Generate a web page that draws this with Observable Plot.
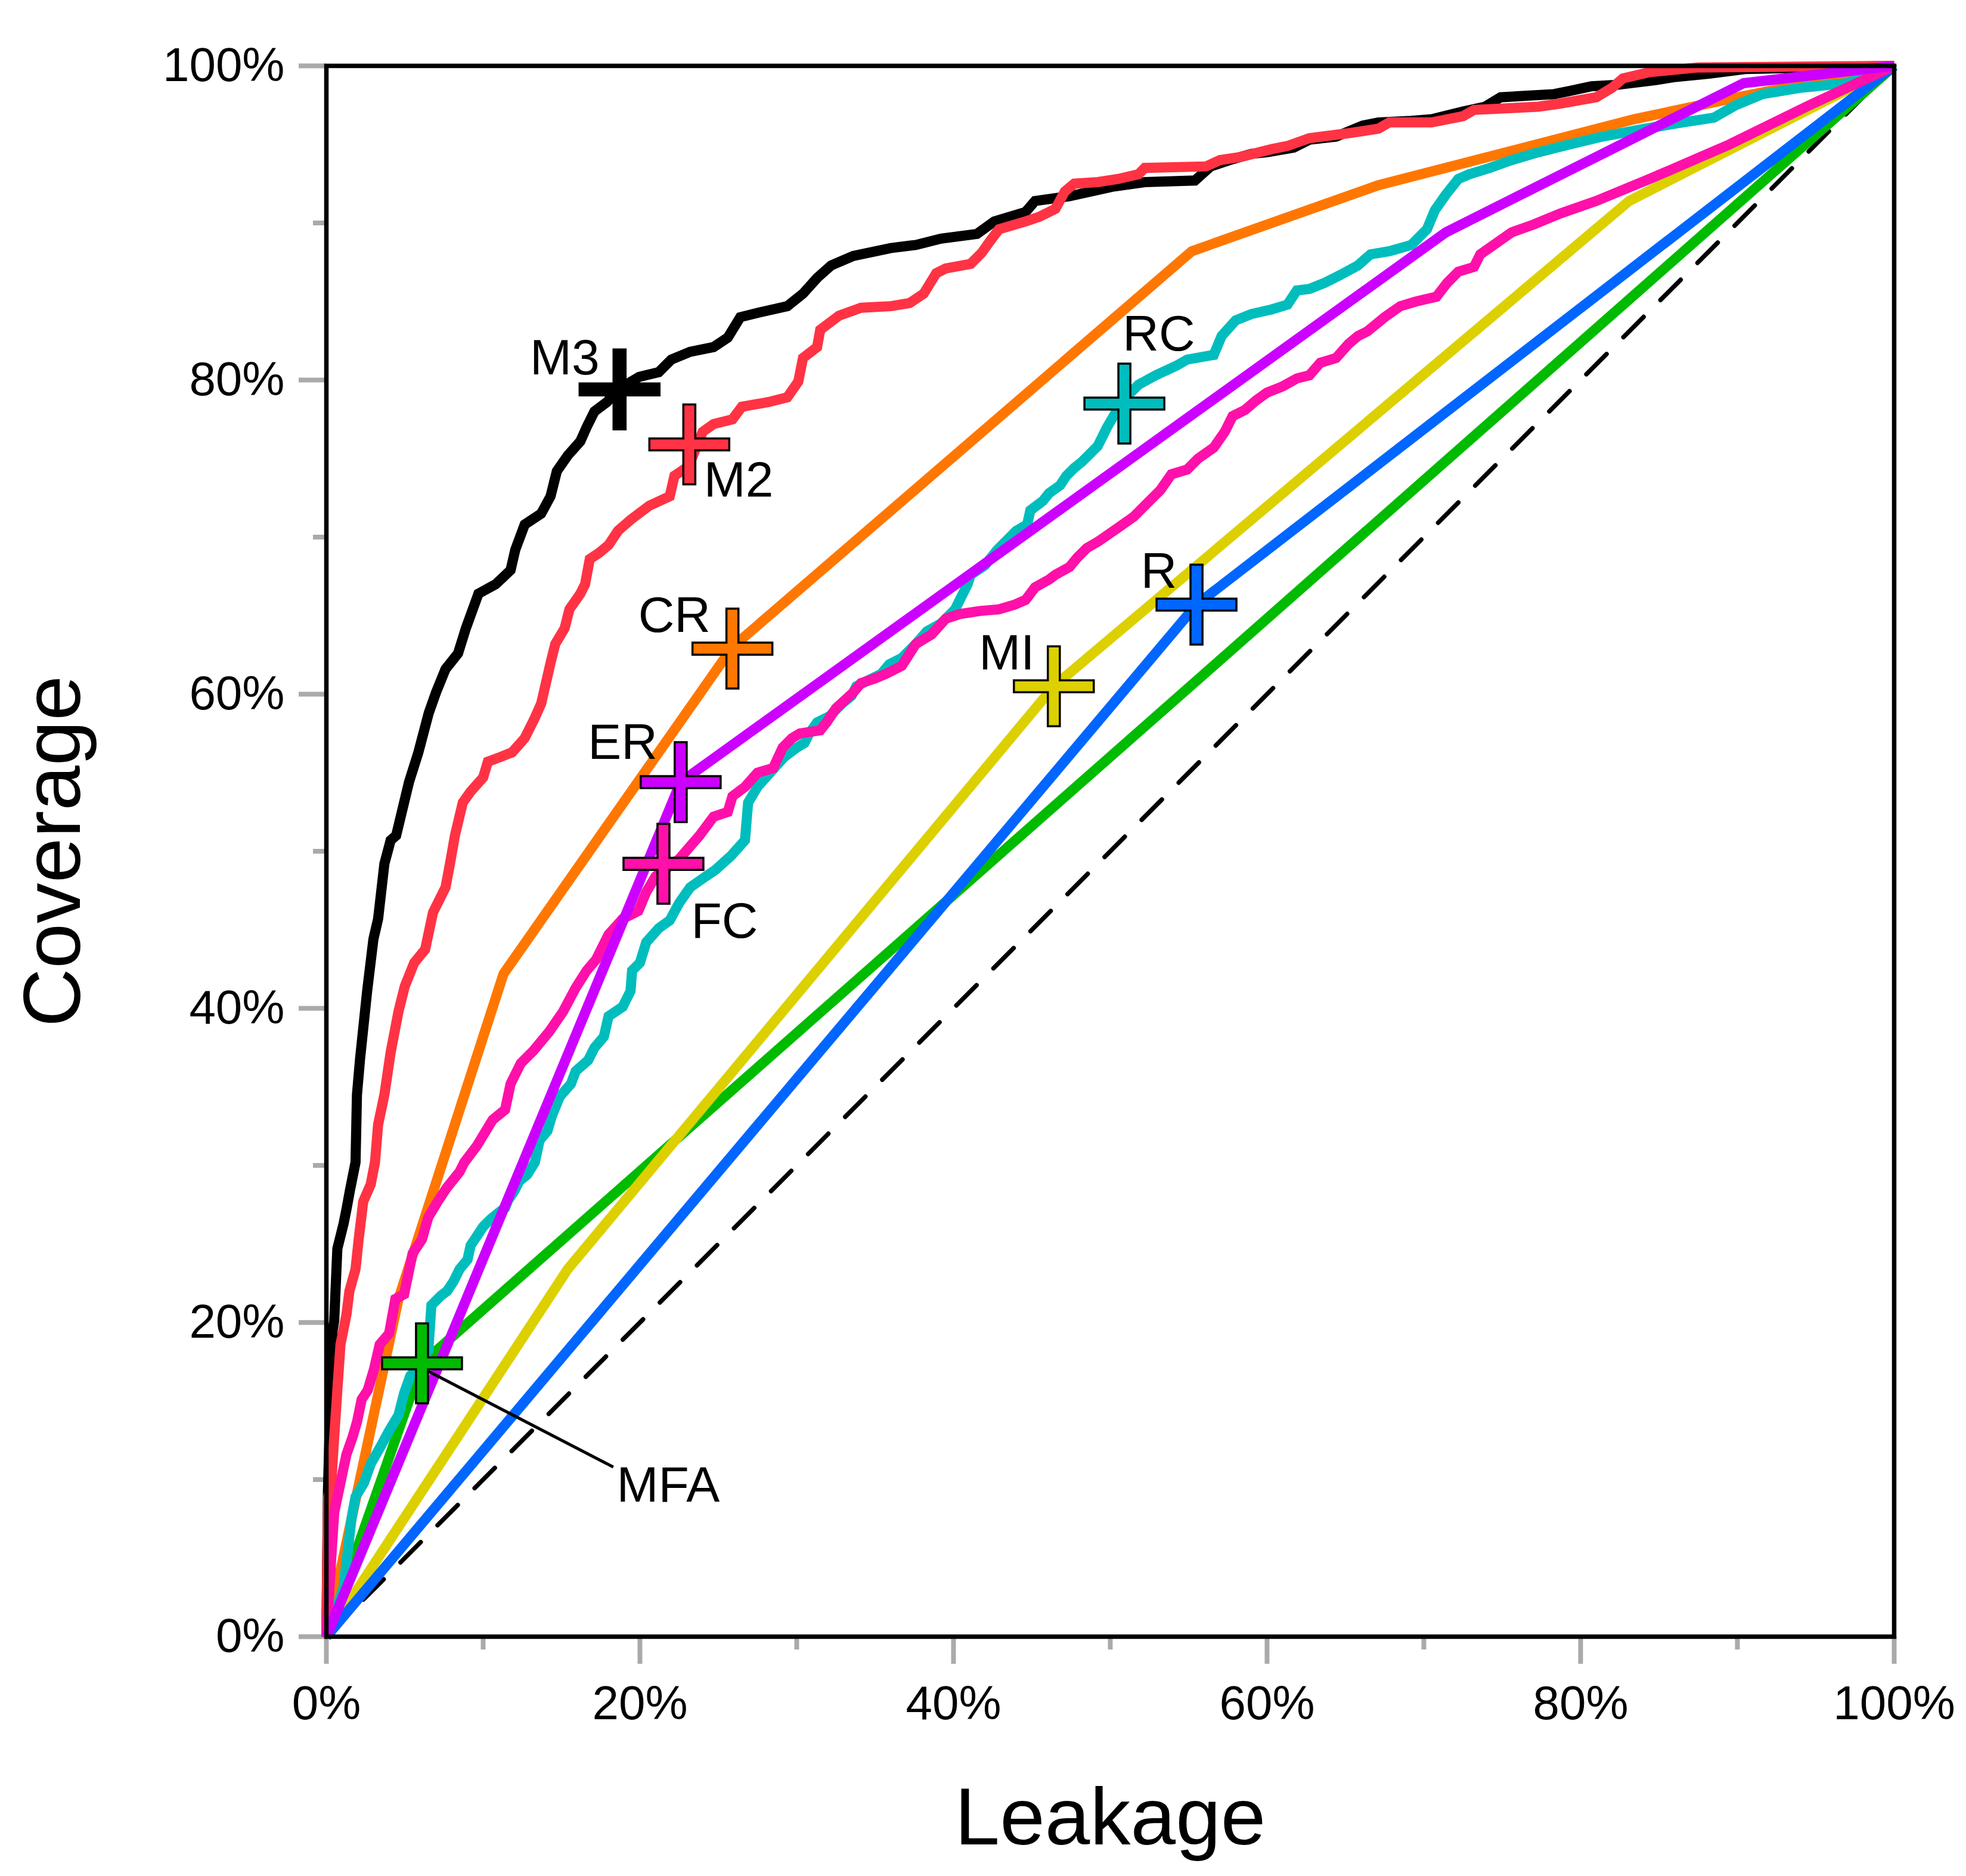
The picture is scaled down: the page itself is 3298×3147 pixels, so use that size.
<!DOCTYPE html>
<html>
<head>
<meta charset="utf-8">
<script src="https://cdn.jsdelivr.net/npm/d3@7"></script>
<script src="https://cdn.jsdelivr.net/npm/@observablehq/plot@0.6"></script>
<style>
  html, body { margin: 0; padding: 0; background: #fff; }
  #chart svg { display: block; }
</style>
</head>
<body>
<div id="chart"></div>
<script>
// ---- Data (Leakage %, Coverage %) ----
const m3 = [[0,0],[0.1,9.3],[0.3,16.6],[0.4,19.5],[0.5,20.1],[0.7,24.7],[1.1,26.3],[1.3,27.3],[1.5,28.4],[1.86,30.2],
  [1.95,34.5],[2.15,36.8],[2.6,41.1],[3.0,44.4],[3.3,45.7],[3.7,49.2],[4.1,50.7],[4.45,51.0],[5.27,54.4],[5.87,56.3],
  [6.53,58.8],[6.99,60.1],[7.6,61.6],[8.4,62.6],[8.9,64.2],[9.7,66.4],[10.8,67.0],[11.75,67.9],[12.05,69.2],[12.65,70.8],
  [13.7,71.5],[14.3,72.6],[14.7,74.2],[15.4,75.2],[16.2,76.1],[16.6,77.0],[17.1,78.0],[17.9,78.6],[18.6,79.4],[19.95,80.2],
  [21.2,80.5],[22.0,81.3],[23.2,81.8],[24.7,82.1],[25.6,82.7],[26.4,84.0],[27.6,84.3],[29.4,84.7],[30.4,85.5],[31.3,86.5],
  [32.2,87.3],[33.6,87.9],[36.0,88.4],[37.6,88.6],[39.2,89.0],[41.5,89.3],[42.6,90.1],[44.6,90.7],[45.2,91.4],[47.4,91.7],
  [49.2,92.1],[50.1,92.3],[52.2,92.6],[55.4,92.7],[56.4,93.6],[57.6,94.0],[59.0,94.4],[60.0,94.5],[61.7,94.8],[62.7,95.3],
  [64.4,95.5],[66.1,96.2],[67.1,96.4],[69.2,96.5],[70.5,96.6],[72.5,97.1],[73.9,97.4],[74.9,98.0],[76.6,98.1],[78.3,98.2],
  [79.3,98.4],[80.7,98.7],[82.4,98.8],[84.8,99.1],[86.1,99.3],[88.2,99.5],[90.5,99.8],[100,100]];

const m2 = [[0,0],[0.1,8.3],[0.12,8.9],[0.31,9.8],[0.5,12.7],[0.7,15.7],[0.9,18.6],[1.28,20.5],[1.47,22.0],[1.86,23.4],
  [2.06,25.3],[2.35,27.7],[2.83,28.8],[3.1,30.2],[3.3,32.6],[3.7,34.5],[4.1,37.2],[4.6,39.8],[5.0,41.4],[5.6,42.9],
  [6.3,43.75],[6.8,46.1],[7.6,47.7],[7.9,49.3],[8.2,51.0],[8.7,53.1],[9.2,53.8],[10.0,54.7],[10.3,55.7],[11.1,56.0],
  [11.85,56.3],[12.65,57.2],[13.3,58.5],[13.7,59.4],[14.0,60.7],[14.3,62.0],[14.6,63.2],[15.2,64.2],[15.5,65.4],[16.2,66.4],
  [16.5,67.0],[16.8,68.6],[17.4,69.0],[18.0,69.5],[18.6,70.4],[19.4,71.1],[20.6,72.0],[21.9,72.6],[22.2,73.9],[23.1,74.5],
  [24.0,76.7],[24.7,77.2],[25.9,77.5],[26.5,78.3],[28.2,78.6],[29.4,78.9],[30.1,79.9],[30.4,81.4],[31.3,82.1],[31.5,83.2],
  [32.7,84.1],[34.1,84.6],[36.0,84.7],[37.2,84.9],[38.1,85.5],[38.9,86.8],[39.5,87.1],[41.1,87.4],[41.8,88.1],[42.3,88.8],
  [42.9,89.6],[44.6,90.1],[45.5,90.4],[46.5,90.9],[47.1,92.0],[47.7,92.5],[49.2,92.6],[50.5,92.8],[51.8,93.1],[52.2,93.5],
  [56.1,93.6],[57.0,94.0],[58.3,94.2],[60.3,94.7],[61.3,94.9],[62.7,95.4],[65.1,95.7],[67.1,96.0],[67.8,96.4],[70.5,96.4],
  [72.5,96.8],[73.2,97.2],[77.3,97.4],[78.7,97.6],[81.0,98.0],[82.0,98.6],[82.7,99.2],[84.4,99.6],[87.5,99.9],[100,100]];

const fc = [[0,0],[0.31,5.0],[0.5,7.9],[0.9,9.8],[1.28,11.6],[1.67,12.7],[1.96,13.7],[2.25,15.1],[2.64,15.7],[3.03,17.0],
  [3.4,18.6],[4.0,19.3],[4.4,21.5],[4.96,21.8],[5.5,24.4],[6.1,25.3],[6.5,26.7],[7.1,27.7],[7.7,28.6],[8.5,29.6],
  [8.8,30.2],[9.6,31.25],[10.6,32.9],[11.4,33.55],[11.75,35.2],[12.4,36.5],[13.2,37.3],[14.2,38.5],[15.1,39.8],[15.9,41.3],
  [16.6,42.4],[17.2,43.1],[18.0,44.7],[18.9,45.7],[19.9,46.2],[20.4,47.4],[21.0,48.4],[22.5,49.5],[23.8,51.0],[24.7,52.2],
  [25.6,52.5],[25.9,53.5],[26.7,54.1],[27.5,55.0],[28.5,55.3],[29.1,56.6],[29.7,57.2],[30.2,57.5],[31.5,57.7],[31.9,58.2],
  [32.5,59.1],[33.6,60.1],[34.1,60.7],[35.0,61.0],[35.7,61.3],[36.7,61.8],[37.6,63.2],[38.6,63.8],[39.5,64.8],[40.4,65.1],
  [41.7,65.3],[42.9,65.4],[43.9,65.7],[44.6,66.0],[45.2,66.8],[46.1,67.3],[46.5,67.6],[47.4,68.1],[47.9,68.7],[48.5,69.3],
  [49.2,69.7],[50.5,70.6],[51.5,71.3],[52.2,72.0],[53.2,73.0],[53.9,74.0],[54.9,74.3],[55.6,75.0],[56.6,75.7],[57.3,76.7],
  [57.8,77.7],[58.6,78.1],[59.3,78.7],[60.0,79.2],[61.0,79.6],[61.9,80.1],[62.7,80.3],[63.4,81.1],[64.4,81.4],[65.2,82.3],
  [65.8,82.8],[66.4,83.1],[67.5,84.0],[68.5,84.7],[69.5,85.0],[70.8,85.3],[71.5,86.2],[72.2,86.9],[73.2,87.2],[73.6,88.0],
  [74.6,88.7],[75.6,89.4],[77.0,89.9],[78.7,90.6],[81.0,91.4],[84.4,92.8],[89.5,95.0],[94.6,97.5],[100,100]];

const rc = [[0,0],[1.09,3.1],[1.6,7.5],[1.86,8.9],[2.4,9.8],[2.83,11.0],[3.4,12.0],[4.0,13.1],[4.6,14.1],[4.96,15.5],
  [5.35,16.6],[5.7,17.0],[6.5,18.2],[6.7,21.1],[7.3,21.7],[7.7,22.0],[8.1,22.6],[8.5,23.4],[9.0,24.0],[9.2,24.9],
  [9.6,25.5],[10.0,26.1],[10.5,26.6],[11.0,27.0],[11.4,27.3],[11.6,27.8],[12.0,28.4],[12.3,29.0],[12.8,29.4],[13.3,30.2],
  [13.6,31.6],[14.1,32.2],[14.4,33.2],[14.9,34.4],[15.6,35.2],[15.9,36.0],[16.7,36.7],[17.1,37.5],[17.7,38.2],[18.0,39.5],
  [18.9,40.1],[19.4,41.1],[19.5,42.4],[20.0,42.9],[20.4,44.2],[21.2,45.1],[21.9,45.6],[22.5,46.7],[23.2,47.7],[24.2,48.4],
  [24.8,48.8],[25.8,49.7],[26.7,50.7],[26.9,53.1],[27.5,54.1],[28.3,55.0],[29.2,56.0],[30.0,56.6],[30.5,56.9],[30.8,57.5],
  [31.3,58.2],[32.1,58.6],[32.9,59.4],[33.5,59.9],[33.8,60.5],[34.4,60.8],[35.4,61.3],[35.9,61.9],[36.7,62.3],[37.6,63.2],
  [38.3,64.0],[39.2,64.5],[40.1,65.4],[40.4,66.0],[40.9,67.0],[41.1,67.6],[42.0,68.2],[42.8,69.2],[43.3,69.7],[44.0,70.4],
  [44.7,70.8],[44.9,71.7],[45.7,72.3],[46.1,72.8],[46.8,73.3],[47.2,73.9],[47.7,74.4],[48.2,74.8],[49.2,75.8],[49.5,76.4],
  [49.8,77.0],[50.8,78.7],[51.8,79.7],[52.9,80.3],[54.2,80.9],[54.9,81.3],[56.6,81.6],[57.1,82.8],[58.0,83.8],[59.0,84.2],
  [60.3,84.5],[61.3,84.8],[61.9,85.7],[62.7,85.8],[63.7,86.2],[64.7,86.7],[65.8,87.3],[66.6,88.0],[67.8,88.2],[69.2,88.6],
  [70.2,89.6],[70.7,90.8],[71.4,91.8],[72.2,92.8],[72.9,93.1],[74.2,93.5],[75.6,94.0],[77.3,94.5],[79.3,95.0],[81.4,95.5],
  [84.1,96.0],[86.5,96.4],[88.5,96.7],[89.9,97.5],[91.6,98.2],[94.0,98.6],[97.0,98.9],[100,100]];

const cr  = [[0,0],[4.6,21.5],[11.3,42.2],[25.9,63.0],[55.2,88.2],[67.1,92.4],[83.4,96.6],[90.0,98.0],[100,100]];
const er  = [[0,0],[22.6,54.4],[71.4,89.4],[90.4,98.9],[100,100]];
const mi  = [[0,0],[15.4,23.4],[46.4,60.5],[83.1,91.4],[100,100]];
const rr  = [[0,0],[55.5,65.7],[100,100]];
const mfa = [[0,0],[6.1,17.4],[100,100]];
const diagonal = [[0,0],[100,100]];

// operating points (markers) and label anchor points, in data units
const markerNames  = ["M3","M2","CR","ER","FC","MI","RC","R","MFA"];
const markerX      = [18.7, 23.15, 25.9, 22.6, 21.5, 46.4, 50.9, 55.5, 6.1];
const markerY      = [79.4, 75.9, 62.9, 54.4, 49.2, 60.5, 78.5, 65.7, 17.4];
const labelX       = [15.2, 26.3, 22.2, 18.9, 25.4, 43.4, 53.1, 53.1, 21.8];
const labelY       = [81.4, 73.6, 65.0, 56.9, 45.5, 62.6, 82.9, 67.8, 9.6];
const leader       = [[6.3, 17.0, 18.3, 10.8]];

const xMajor = [0, 20, 40, 60, 80, 100];
const xMinor = [10, 30, 50, 70, 90];
const yMajor = [0, 20, 40, 60, 80, 100];
const yMinor = [10, 30, 50, 70, 90];

// ---- styles ----
const colors = {
  M3: "#000000", M2: "#ff3344", CR: "#ff7700", ER: "#cc00ff", FC: "#ff10aa",
  MI: "#ddd000", RC: "#00bdbd", R: "#0066ff", MFA: "#00bb00"
};

const markers = markerNames.map((n, i) => ({name: n, x: markerX[i], y: markerY[i], color: colors[n]}));
const labels = markerNames.map((n, i) => ({name: n, x: labelX[i], y: labelY[i]}));

const plusSymbol = {
  draw(context, size) {
    const r = Math.sqrt(size / Math.PI);
    const w = r * 0.15;
    context.moveTo(-w, -r); context.lineTo(w, -r); context.lineTo(w, -w);
    context.lineTo(r, -w); context.lineTo(r, w); context.lineTo(w, w);
    context.lineTo(w, r); context.lineTo(-w, r); context.lineTo(-w, w);
    context.lineTo(-r, w); context.lineTo(-r, -w); context.lineTo(-w, -w);
    context.closePath();
  }
};

const LW = 17;
const line = (data, color) => Plot.line(data, {x: d => d[0], y: d => d[1], stroke: color, strokeWidth: LW, strokeLinejoin: "miter", strokeMiterlimit: 2, strokeLinecap: "butt"});
const pct = d => d + "%";
const font = "'Liberation Sans', Arial, Helvetica, sans-serif";

const chart = Plot.plot({
  width: 3298,
  height: 3147,
  marginLeft: 547,
  marginRight: 121,
  marginTop: 110,
  marginBottom: 402,
  style: {fontFamily: font, background: "#fff"},
  x: {domain: [0, 100], label: null, axis: null},
  y: {domain: [0, 100], label: null, axis: null},
  color: {type: "identity"},
  marks: [
    Plot.axisX({ticks: xMinor, tickSize: 22, tickFormat: () => "", stroke: "#aaaaaa", strokeWidth: 8, label: null}),
    Plot.axisX({ticks: xMajor, tickSize: 46, tickPadding: 36, tickFormat: pct, fontSize: 80, stroke: "#aaaaaa", fill: "black", strokeWidth: 8, label: null}),
    Plot.axisY({ticks: yMinor, tickSize: 22, tickFormat: () => "", stroke: "#aaaaaa", strokeWidth: 8, label: null}),
    Plot.axisY({ticks: yMajor, tickSize: 46, tickPadding: 24, tickFormat: pct, fontSize: 80, stroke: "#aaaaaa", fill: "black", strokeWidth: 8, label: null}),
    Plot.line(diagonal, {x: d => d[0], y: d => d[1], stroke: "black", strokeWidth: 7.5, strokeDasharray: "48,40"}),
    line(mfa, colors.MFA),
    line(mi, colors.MI),
    line(rr, colors.R),
    line(cr, colors.CR),
    line(m3, colors.M3),
    line(m2, colors.M2),
    line(rc, colors.RC),
    line(fc, colors.FC),
    line(er, colors.ER),
    Plot.link(leader, {x1: d => d[0], y1: d => d[1], x2: d => d[2], y2: d => d[3], stroke: "black", strokeWidth: 5}),
    Plot.dot(markers, {x: "x", y: "y", symbol: plusSymbol, r: 67, fill: "color", stroke: "black", strokeWidth: 3.5}),
    Plot.text(labels, {x: "x", y: "y", text: "name", fontSize: 84, fill: "black", textAnchor: "middle", lineAnchor: "middle"}),
    Plot.frame({stroke: "black", strokeWidth: 7.5}),
    Plot.text(["Coverage"], {frameAnchor: "left", dx: -457, rotate: -90, fontSize: 136, fill: "black", textAnchor: "middle", lineAnchor: "middle"}),
    Plot.text(["Leakage"], {frameAnchor: "bottom", dy: 305, fontSize: 136, fill: "black", textAnchor: "middle", lineAnchor: "middle"})
  ]
});
document.getElementById("chart").appendChild(chart);
</script>
</body>
</html>
